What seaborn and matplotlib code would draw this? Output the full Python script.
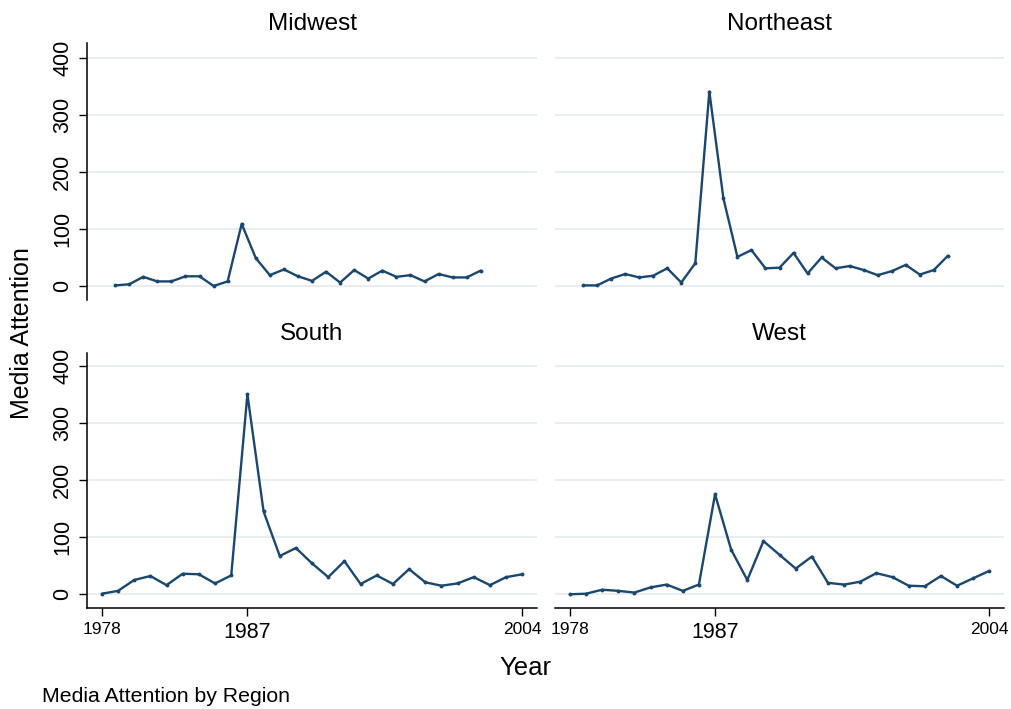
import matplotlib
matplotlib.use("Agg")
import matplotlib.pyplot as plt
import numpy as np
import pandas as pd
import seaborn as sns

# Yearly media attention counts by region, 1978-2004
years = list(range(1978, 2005))
regions = ["Midwest", "Northeast", "South", "West"]
midwest = [1, 3, 16, 8, 8, 17, 17, 0, 8, 109, 49, 19, 29, 17, 9, 25, 6, 28, 13, 27, 16, 19, 8, 21, 15, 15, 27]
northeast = [1, 1, 13, 21, 15, 18, 31, 6, 40, 341, 154, 51, 63, 31, 32, 58, 22, 50, 31, 35, 28, 19, 26, 37, 20, 28, 53]
south = [1, 6, 25, 32, 16, 36, 35, 19, 33, 350, 145, 67, 81, 54, 30, 58, 18, 33, 18, 44, 21, 15, 19, 30, 16, 30, 35]
west = [0, 1, 8, 6, 3, 12, 17, 6, 17, 175, 78, 25, 93, 69, 45, 66, 20, 17, 22, 37, 30, 15, 14, 32, 15, 28, 41]
y_ticks = [0, 100, 200, 300, 400]
x_ticks = [1978, 1987, 2004]
x_tick_labels = ["1978", "1987", "2004"]

series = dict(zip(regions, [midwest, northeast, south, west]))
df = pd.DataFrame(
    [(r, yr, v) for r in regions for yr, v in zip(years, series[r])],
    columns=["region", "year", "attention"],
)

sns.set_theme(style="white")
plt.rcParams["font.family"] = ["Liberation Sans", "DejaVu Sans"]
plt.rcParams["text.color"] = "black"
plt.rcParams["xtick.color"] = "black"
plt.rcParams["ytick.color"] = "black"
plt.rcParams["xtick.labelcolor"] = "black"
plt.rcParams["ytick.labelcolor"] = "black"

W, H = 1011, 709
fig = plt.figure(figsize=(W / 100, H / 100), dpi=100)
fig.patch.set_facecolor("white")


def rect(x0, y0, x1, y1):
    return [x0 / W, 1 - y1 / H, (x1 - x0) / W, (y1 - y0) / H]


layout = {
    "Midwest": (rect(87, 43, 537, 300), (1976.0, 2008.0), (-24.6, 426.3), True, False),
    "Northeast": (rect(555, 43, 1004, 300), (1976.0, 2008.0), (-24.6, 426.3), False, False),
    "South": (rect(87, 353, 537, 608), (1977.08, 2004.91), (-24.0, 422.2), True, True),
    "West": (rect(555, 353, 1004, 608), (1977.08, 2004.91), (-24.0, 422.2), False, True),
}

line_color = "#1a476f"
grid_color = "#e4edf1"

for region in regions:
    r, xlim, ylim, show_y, show_x = layout[region]
    ax = fig.add_axes(r)
    ax.set_facecolor("white")
    for yv in y_ticks:
        ax.axhline(yv, color=grid_color, lw=1.3, zorder=0)
    sns.lineplot(
        data=df[df["region"] == region], x="year", y="attention", ax=ax,
        color=line_color, lw=1.7, marker="o", markersize=2.8,
        markeredgewidth=0, zorder=3,
    )
    ax.set_xlim(*xlim)
    ax.set_ylim(*ylim)
    ax.set_xlabel("")
    ax.set_ylabel("")
    for s in ["top", "right"]:
        ax.spines[s].set_visible(False)
    ax.spines["left"].set_visible(show_y)
    ax.spines["bottom"].set_visible(show_x)
    for s in ["left", "bottom"]:
        ax.spines[s].set_color("black")
        ax.spines[s].set_linewidth(1.1)

    ax.set_yticks(y_ticks)
    if show_y:
        ax.set_yticklabels([str(v) for v in y_ticks], rotation=90, va="center", fontsize=15.5)
        ax.tick_params(axis="y", left=True, length=6, width=1.0, pad=4, color="black",
                       labelcolor="black")
    else:
        ax.tick_params(axis="y", left=False, labelleft=False)

    if show_x:
        ax.set_xticks(x_ticks)
        ax.set_xticklabels(x_tick_labels)
        for lab, sz in zip(ax.get_xticklabels(), [12.5, 15.5, 12.5]):
            lab.set_fontsize(sz)
            lab.set_va("top")
            lab.set_color("black")
        ax.tick_params(axis="x", bottom=True, length=6, width=1.0, pad=4, color="black")
    else:
        ax.set_xticks([])
        ax.tick_params(axis="x", bottom=False, labelbottom=False)

    cx = (r[0] + r[2] / 2)
    ty = r[1] + r[3] + 19 / H
    fig.text(cx, ty, region, ha="center", va="center", fontsize=17.5, color="black")

fig.text(22 / W, 1 - 333 / H, "Media Attention", rotation=90, ha="center", va="center",
         fontsize=18, color="black")
fig.text(525 / W, 1 - 668 / H, "Year", ha="center", va="center", fontsize=18.5, color="black")
fig.text(42 / W, 1 - 697 / H, "Media Attention by Region", ha="left", va="center",
         fontsize=15.3, color="black")

fig.savefig("out.png", dpi=100, facecolor="white")
